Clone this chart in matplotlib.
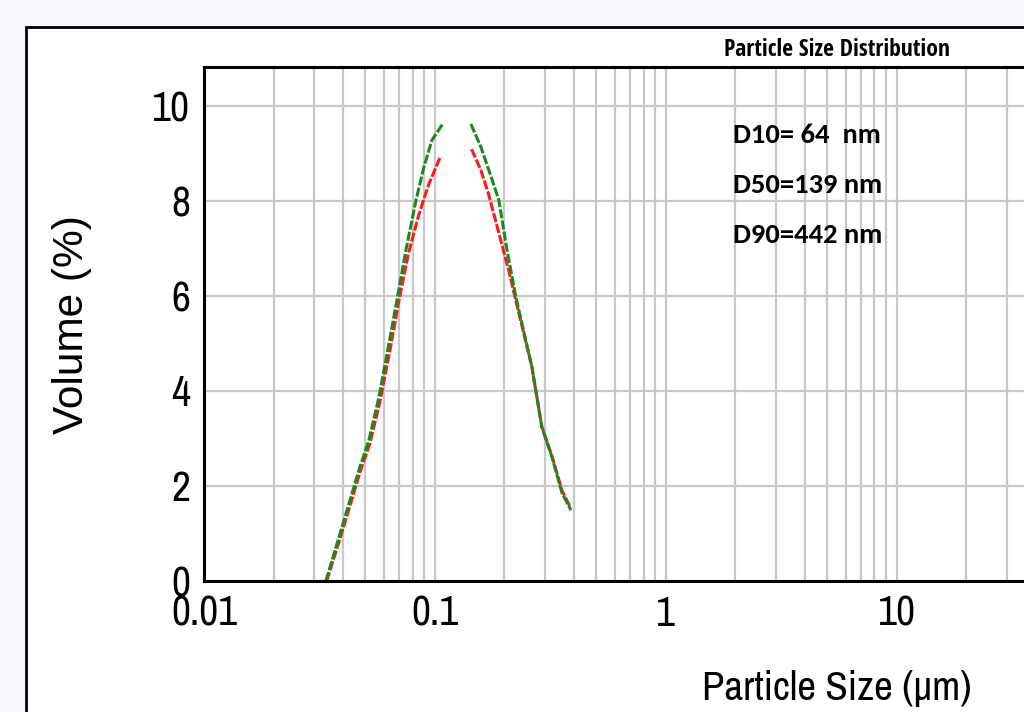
import matplotlib
matplotlib.use("Agg")
import matplotlib.pyplot as plt
from matplotlib.patches import Rectangle
from matplotlib.ticker import LogLocator, FixedLocator, NullFormatter

# particle size (um) and volume (%)
# the curves have a gap around the peak, so each side is kept apart
green_left_x = [0.0337, 0.0396, 0.0469, 0.0518, 0.0572, 0.0632, 0.0685, 0.0749, 0.0828, 0.0896, 0.097, 0.108]
green_left_y = [0.0, 1.14, 2.34, 2.97, 3.87, 5.0, 5.92, 6.97, 8.02, 8.72, 9.28, 9.62]
green_right_x = [0.143, 0.158, 0.175, 0.189, 0.205, 0.224, 0.263, 0.29, 0.321, 0.355, 0.388]
green_right_y = [9.62, 9.14, 8.51, 8.02, 6.97, 5.98, 4.5, 3.24, 2.61, 1.85, 1.49]

red_left_x = [0.0340, 0.0400, 0.0473, 0.0523, 0.0578, 0.0640, 0.0695, 0.0768, 0.0850, 0.0940, 0.1055]
red_left_y = [0.0, 1.10, 2.28, 2.90, 3.78, 4.88, 5.85, 6.90, 7.70, 8.35, 8.93]
red_right_x = [0.144, 0.158, 0.170, 0.189, 0.210, 0.222, 0.263, 0.29, 0.321, 0.355, 0.385]
red_right_y = [9.09, 8.65, 8.17, 7.33, 6.48, 5.98, 4.5, 3.26, 2.63, 1.90, 1.56]

y_ticks = [0, 2, 4, 6, 8, 10]
x_ticks = [0.01, 0.1, 1, 10, 100, 1000]
x_tick_labels = ["0.01", "0.1", "1", "10", "100", "1000"]

notes = ["D10= 64  nm", "D50=139 nm", "D90=442 nm"]

# first one that is installed gets used
NARROW = ["Liberation Sans Narrow", "Arial Narrow", "Archivo Narrow", "Roboto Condensed",
          "PT Sans Narrow", "Fira Sans Condensed", "IBM Plex Sans Condensed",
          "Liberation Sans", "DejaVu Sans"]
NARROW_BOLD = ["Open Sans Condensed"] + NARROW
CALIBRI = ["Carlito", "Lato", "DejaVu Sans"]

fig = plt.figure(figsize=(10.24, 7.12), dpi=100)
fig.patch.set_facecolor("#f7f9fc")

# white panel of the screenshot
fig.patches.append(Rectangle((26 / 1024, -0.1), 1.2, 1 - 27 / 712 + 0.1,
                             transform=fig.transFigure, facecolor="white",
                             edgecolor="black", linewidth=2, zorder=-5))

ax = fig.add_axes([204 / 1024, 131 / 712, 1265 / 1024, 514 / 712])
ax.set_xscale("log")
ax.set_xlim(0.01, 3000)
ax.set_ylim(0, 10.82)

ax.xaxis.set_major_locator(FixedLocator(x_ticks))
ax.xaxis.set_minor_locator(LogLocator(base=10, subs=range(2, 10), numticks=20))
ax.xaxis.set_minor_formatter(NullFormatter())
ax.set_xticks(x_ticks)
ax.set_xticklabels(x_tick_labels)
ax.set_yticks(y_ticks)

ax.grid(True, which="both", axis="x", color="#c8c8c8", linewidth=1.6)
ax.grid(True, which="major", axis="y", color="#c8c8c8", linewidth=1.6)
ax.set_axisbelow(True)

for s in ax.spines.values():
    s.set_linewidth(2.2)
    s.set_color("black")

ax.tick_params(which="both", length=0)
ax.tick_params(axis="y", pad=10)
ax.tick_params(axis="x", pad=10)
for lab in ax.get_xticklabels() + ax.get_yticklabels():
    lab.set_family(NARROW)
    lab.set_fontsize(30)

ls = (0, (3, 0.7))
ax.plot(red_left_x, red_left_y, color="#ff1a1a", linewidth=2.2, linestyle=ls)
ax.plot(red_right_x, red_right_y, color="#ff1a1a", linewidth=2.2, linestyle=ls)
ax.plot(green_left_x, green_left_y, color="#1a8a1a", linewidth=2.2, linestyle=ls)
ax.plot(green_right_x, green_right_y, color="#1a8a1a", linewidth=2.2, linestyle=ls)

ax.set_xlabel("Particle Size (µm)", family=NARROW, fontsize=29.5, labelpad=27)
fig.text(72 / 1024, 1 - 325 / 712, "Volume (%)", rotation=90, ha="center", va="center",
         family=["Liberation Sans", "DejaVu Sans"], fontsize=30.5)
ax.set_title("Particle Size Distribution", family=NARROW_BOLD, fontsize=17,
             fontweight="bold", pad=8)

for i, t in enumerate(notes):
    fig.text(733 / 1024, 1 - (135 + 50 * i) / 712, t, ha="left", va="center",
             family=CALIBRI, fontweight="bold", fontsize=20.5)

fig.savefig("out.png", dpi=100, facecolor=fig.get_facecolor())
